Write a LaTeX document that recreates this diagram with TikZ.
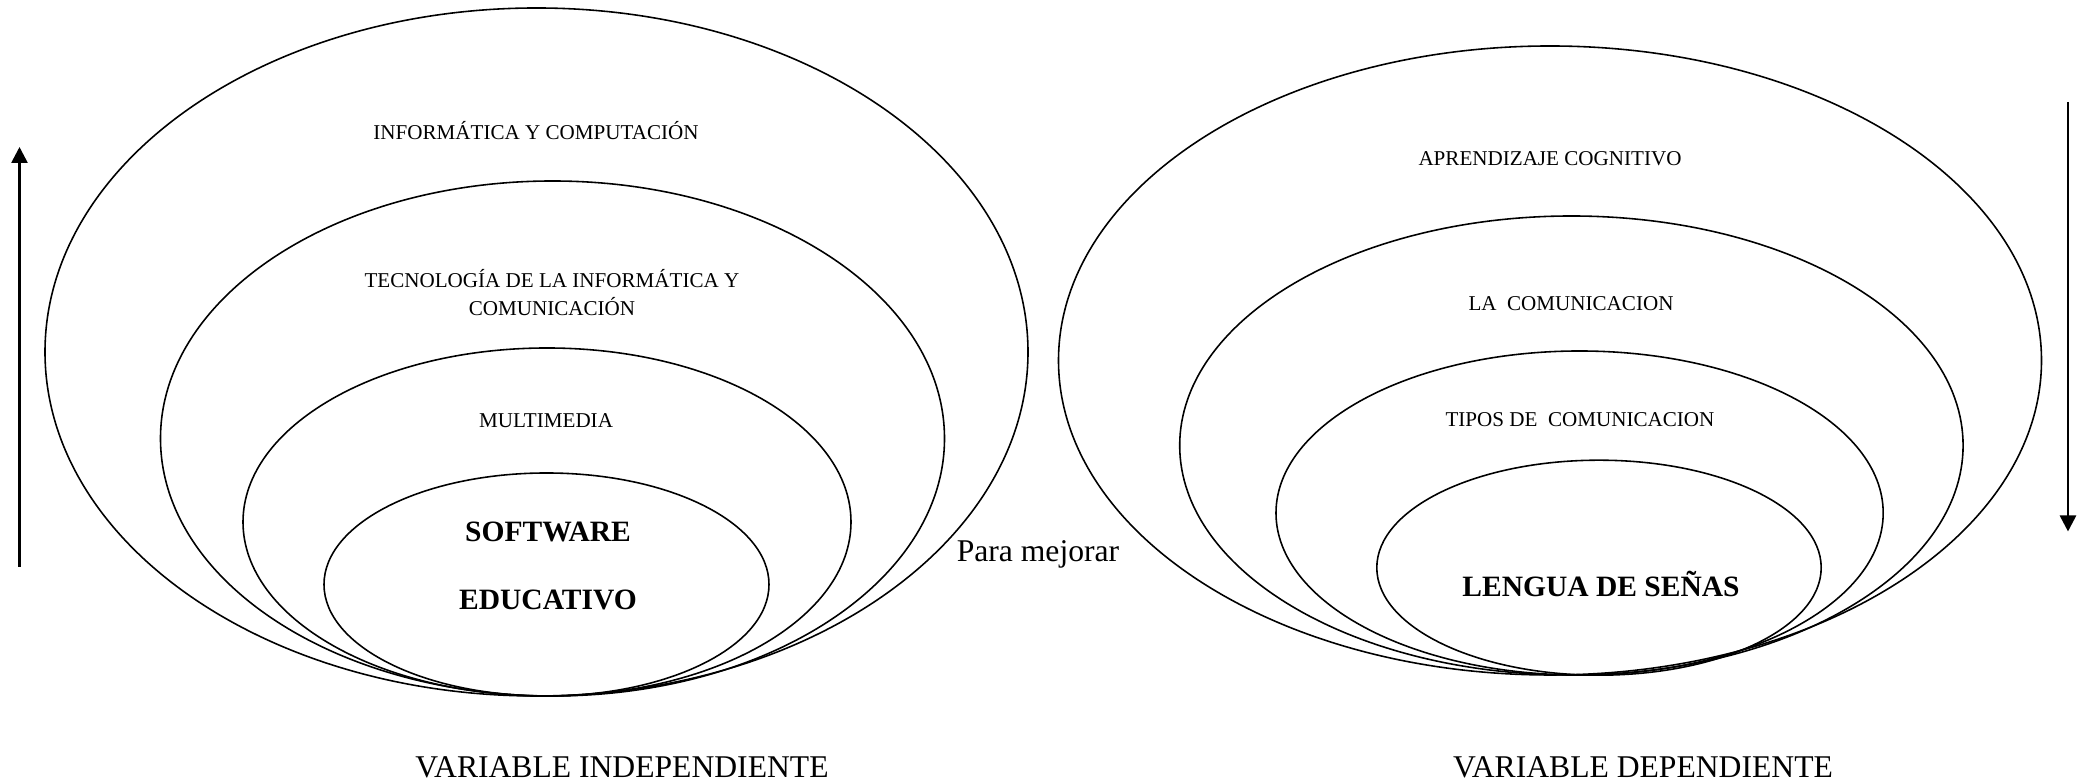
\documentclass[tikz,border=0pt]{standalone}
\usepackage{fontspec}
\setmainfont{Liberation Serif}
\usetikzlibrary{positioning,arrows.meta,shapes.geometric}
\tikzset{%
ring/.style={draw,ellipse,inner sep=0,line width=0.45pt},
small/.style={font=\fontsize{6}{8.2}\selectfont,inner sep=1pt,align=center},
core/.style={font=\fontsize{8.4}{19.1}\selectfont\bfseries,inner sep=1pt,align=center},
caption/.style={font=\fontsize{9}{11}\selectfont,inner sep=1pt},
trend/.style={-{Triangle[length=1.6mm,width=1.6mm]},line width=0.75pt},
blank/.style={inner sep=0,minimum size=0}
}

\begin{document}
\begin{tikzpicture}

    \useasboundingbox (0,0) rectangle (20.83,7.83);

    % variable independiente
    \node[ring,minimum width=9.83cm,minimum height=6.88cm] (inf) at (5.365,4.31) {};
    \node[ring,minimum width=7.84cm,minimum height=5.15cm] (tic) at (5.525,3.445) {};
    \node[ring,minimum width=6.08cm,minimum height=3.48cm] (mult) at (5.47,2.61) {};
    \node[ring,minimum width=4.45cm,minimum height=2.23cm] (soft) at (5.465,1.985) {};

    \node[small] (linf) at (5.36,6.52) {INFORMÁTICA Y COMPUTACIÓN};
    \node[small] (ltic) at (5.52,4.905) {TECNOLOGÍA DE LA INFORMÁTICA Y\\COMUNICACIÓN};
    \node[small] (lmult) at (5.46,3.62) {MULTIMEDIA};
    \node[core] (lsoft) at (5.48,2.17) {SOFTWARE\\EDUCATIVO};

    % variable dependiente
    \node[ring,minimum width=9.83cm,minimum height=6.29cm] (apr) at (15.50,4.225) {};
    \node[ring,minimum width=7.834cm,minimum height=4.59cm] (com) at (15.714,3.375) {};
    \node[ring,minimum width=6.072cm,minimum height=3.24cm] (tipos) at (15.796,2.70) {};
    \node[ring,minimum width=4.444cm,minimum height=2.15cm] (lsen) at (15.99,2.153) {};

    \node[small] (lapr) at (15.50,6.24) {APRENDIZAJE COGNITIVO};
    \node[small] (lcom) at (15.71,4.794) {LA\ \ COMUNICACION};
    \node[small] (ltipos) at (15.80,3.635) {TIPOS DE\ \ COMUNICACION};
    \node[core] (llsen) at (16.01,1.99) {LENGUA DE SEÑAS};

    \node[caption] (mejorar) at (10.38,2.29) {Para mejorar};
    \node[caption] (vind) at (6.22,0.16) {VARIABLE INDEPENDIENTE};
    \node[caption] (vdep) at (16.43,0.16) {VARIABLE DEPENDIENTE};

    \coordinate (upfrom) at (0.195,2.16);
    \coordinate (upto) at (0.195,6.36);
    \coordinate (downfrom) at (20.68,6.81);
    \coordinate (downto) at (20.68,2.515);

    \draw[trend] (upfrom) -- (upto);
    \draw[trend] (downfrom) -- (downto);

\end{tikzpicture}
\end{document}
